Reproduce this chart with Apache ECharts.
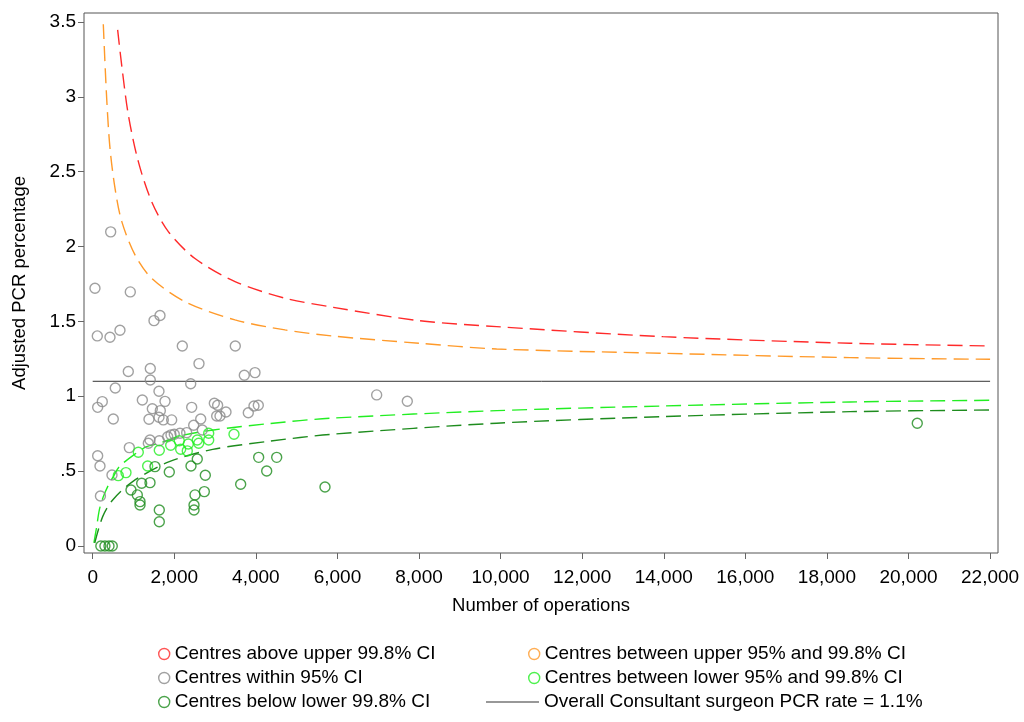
<!DOCTYPE html>
<html>
<head>
<meta charset="utf-8">
<script src="https://cdn.jsdelivr.net/npm/echarts@6/dist/echarts.min.js"></script>
<style>
  html, body { margin: 0; padding: 0; background: #fff; }
  #chart { width: 1024px; height: 722px; }
</style>
</head>
<body>
<div id="chart"></div>
<script>
/* ===== data: [operations, adjusted PCR %] ===== */

const xTicks = [0, 2000, 4000, 6000, 8000, 10000, 12000, 14000, 16000, 18000, 20000, 22000];
const yTicks = [0, 0.5, 1, 1.5, 2, 2.5, 3, 3.5];

const aboveUpper998 = [];
const betweenUpper = [];

const within95 = [
  [441, 2.098], [56, 1.721], [922, 1.697], [1503, 1.505], [1650, 1.539],
  [113, 1.403], [424, 1.394], [669, 1.441], [2197, 1.336], [3496, 1.336],
  [2606, 1.218], [873, 1.165], [1412, 1.185], [1412, 1.109], [3717, 1.140],
  [3979, 1.158], [554, 1.055], [2403, 1.084], [1625, 1.033], [235, 0.964],
  [122, 0.926], [1217, 0.975], [1773, 0.966], [1462, 0.917], [1658, 0.904],
  [2427, 0.926], [2982, 0.953], [3063, 0.940], [505, 0.848], [1380, 0.846],
  [1625, 0.860], [1731, 0.842], [1936, 0.842], [2648, 0.848], [2476, 0.806],
  [3040, 0.868], [3121, 0.868], [3268, 0.895], [3815, 0.890], [3954, 0.935],
  [4060, 0.940], [1839, 0.730], [1920, 0.742], [2000, 0.746], [2140, 0.753],
  [2304, 0.757], [2687, 0.775], [1405, 0.708], [1364, 0.686], [898, 0.657],
  [122, 0.603], [179, 0.534], [1633, 0.703], [6962, 1.009], [7713, 0.967],
  [190, 0.334], [473, 0.474]
];

const betweenLower = [
  [628, 0.470], [816, 0.490], [1118, 0.626], [1348, 0.534], [1633, 0.639],
  [1912, 0.673], [2123, 0.703], [2157, 0.646], [2319, 0.635], [2344, 0.681],
  [2564, 0.708], [2599, 0.686], [2844, 0.753], [2844, 0.708], [3464, 0.746]
];

const belowLower998 = [
  [200, 0], [300, 0], [400, 0], [480, 0],
  [1527, 0.530], [1878, 0.494], [2410, 0.534], [2564, 0.581], [2761, 0.472],
  [4069, 0.592], [4511, 0.592], [4266, 0.501], [3628, 0.412], [1201, 0.419],
  [1405, 0.423], [939, 0.374], [1094, 0.341], [1160, 0.296], [1160, 0.274],
  [2508, 0.341], [2737, 0.363], [2484, 0.274], [2484, 0.240], [1633, 0.240],
  [1633, 0.162], [5695, 0.394], [20215, 0.820]
];

// control limits
const upper998 = [
  [612, 3.447], [710, 3.213], [874, 2.879], [1119, 2.567], [1446, 2.30],
  [1854, 2.10], [2508, 1.92], [3489, 1.766], [4715, 1.655], [5900, 1.594],
  [8000, 1.505], [9904, 1.465], [13982, 1.398], [18566, 1.354], [22000, 1.336]
];
const upper95 = [
  [260, 3.485], [343, 2.99], [424, 2.657], [547, 2.39], [710, 2.17],
  [1037, 1.944], [1446, 1.788], [2263, 1.632], [3489, 1.51], [4715, 1.443],
  [5850, 1.403], [8000, 1.354], [9904, 1.316], [13982, 1.287], [18566, 1.258],
  [22000, 1.247]
];
const lower95 = [
  [30, 0.02], [98, 0.129], [162, 0.24], [260, 0.329], [407, 0.419],
  [505, 0.463], [652, 0.53], [1062, 0.619], [1324, 0.663], [1633, 0.686],
  [2140, 0.735], [2957, 0.775], [4347, 0.818], [5818, 0.853], [9904, 0.904],
  [13982, 0.935], [18566, 0.962], [22000, 0.973]
];
const lower998 = [
  [50, 0.02], [245, 0.196], [490, 0.307], [980, 0.43], [1878, 0.563],
  [2941, 0.645], [4347, 0.70], [5818, 0.745], [9904, 0.82], [13982, 0.864],
  [18566, 0.897], [22000, 0.908]
];
const overallRate = [[0, 1.1], [22000, 1.1]];

/* ===== styling ===== */

const col = {
  red: '#ff2a2a',
  orange: '#ff9a2a',
  grey: '#8a8a8a',
  lime: '#22ee22',
  dark: '#1e8c1e',
  frame: '#555555',
};
const font = "'Liberation Sans', Arial, sans-serif";

const names = {
  red: 'Centres above upper 99.8% CI',
  orange: 'Centres between upper 95% and 99.8% CI',
  grey: 'Centres within 95% CI',
  lime: 'Centres between lower 95% and 99.8% CI',
  dark: 'Centres below lower 99.8% CI',
  line: 'Overall Consultant surgeon PCR rate = 1.1%',
};

function hollow(color) {
  return { color: 'rgba(255,255,255,0)', borderColor: color, borderWidth: 1.4 };
}

function scatter(name, color, data) {
  return {
    name, type: 'scatter', data,
    symbol: 'circle', symbolSize: 10,
    itemStyle: hollow(color),
    silent: true, z: 3,
  };
}

function limitLine(color, data) {
  return {
    type: 'line', data, smooth: 0.3, symbol: 'none', silent: true,
    lineStyle: { color, width: 1.4, type: [15, 7] }, z: 2,
  };
}

function legendItem(key) {
  return { name: names[key], icon: 'circle', itemStyle: hollow(col[key]) };
}

const legendCommon = {
  orient: 'vertical',
  selectedMode: false,
  padding: 0,
  itemWidth: 11,
  itemHeight: 11,
  itemGap: 4,
  textStyle: { fontFamily: font, fontSize: 19, color: '#000', lineHeight: 20 },
};

const chart = echarts.init(document.getElementById('chart'));
chart.setOption({
  backgroundColor: '#fff',
  animation: false,
  grid: {
    left: 84, right: 26, top: 13, height: 540,
    show: true, borderColor: col.frame, borderWidth: 1,
  },
  xAxis: {
    type: 'value',
    min: -213, max: 22194,
    name: 'Number of operations',
    nameLocation: 'middle', nameGap: 43,
    nameTextStyle: { fontFamily: font, fontSize: 18.5, color: '#000' },
    axisLine: { show: false, onZero: false },
    axisTick: { show: true, length: 6, customValues: xTicks, lineStyle: { color: '#666' } },
    axisLabel: {
      customValues: xTicks, margin: 15,
      fontFamily: font, fontSize: 19, color: '#000',
      formatter: v => Number(v).toLocaleString('en-US'),
    },
    splitLine: { show: false },
  },
  yAxis: {
    type: 'value',
    min: -0.047, max: 3.56,
    name: 'Adjusted PCR percentage',
    nameLocation: 'middle', nameGap: 55,
    nameTextStyle: { fontFamily: font, fontSize: 18.5, color: '#000' },
    axisLine: { show: false, onZero: false },
    axisTick: { show: true, length: 6, customValues: yTicks, lineStyle: { color: '#666' } },
    axisLabel: {
      customValues: yTicks, margin: 8,
      fontFamily: font, fontSize: 19, color: '#000',
      formatter: v => (v > 0 && v < 1 ? String(v).replace(/^0/, '') : String(v)),
    },
    splitLine: { show: false },
  },
  legend: [
    { ...legendCommon, left: 158, top: 644,
      data: [legendItem('red'), legendItem('grey'), legendItem('dark')] },
    { ...legendCommon, left: 528, top: 644,
      data: [legendItem('orange'), legendItem('lime')] },
    { ...legendCommon, left: 486, top: 692, itemWidth: 53, itemHeight: 1.2,
      data: [{ name: names.line, icon: 'rect', itemStyle: { color: '#333' } }] },
  ],
  series: [
    limitLine(col.red, upper998),
    limitLine(col.orange, upper95),
    limitLine(col.lime, lower95),
    limitLine(col.dark, lower998),
    {
      name: names.line, type: 'line', data: overallRate,
      symbol: 'none', silent: true,
      lineStyle: { color: '#333', width: 1 },
      itemStyle: { color: '#333' }, z: 2,
    },
    scatter(names.red, col.red, aboveUpper998),
    scatter(names.orange, col.orange, betweenUpper),
    scatter(names.grey, col.grey, within95),
    scatter(names.lime, col.lime, betweenLower),
    scatter(names.dark, col.dark, belowLower998),
  ],
});

window.addEventListener('resize', () => chart.resize());
</script>
</body>
</html>
